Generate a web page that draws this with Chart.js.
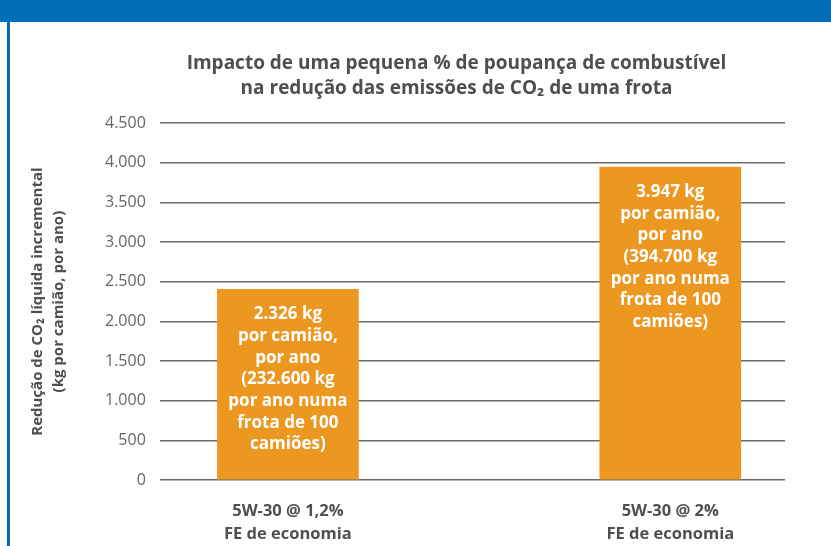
<!DOCTYPE html>
<html>
<head>
<meta charset="utf-8">
<script src="https://cdn.jsdelivr.net/npm/chart.js@4.4.1/dist/chart.umd.min.js"></script>
<style>
  html, body { margin: 0; padding: 0; background: #fff; overflow: hidden; }
  body { width: 831px; height: 546px; position: relative; }
  #topbar { position: absolute; left: 0; top: 0; width: 831px; height: 22px; background: #006eb7; }
  #sidebar { position: absolute; left: 7px; top: 22px; width: 3px; height: 524px; background: #006eb7; }
  #wrap { position: absolute; left: 10px; top: 22px; width: 876px; height: 524px; }
</style>
</head>
<body>
<div id="topbar"></div>
<div id="sidebar"></div>
<div id="wrap"><canvas id="chart"></canvas></div>
<script>
// Dados do gráfico
const categories = [['5W-30 @ 1,2%', 'FE de economia'], ['5W-30 @ 2%', 'FE de economia']];
const reduction = [2405, 3947];
const barLabels = [
  ['2.326 kg', 'por camião,', 'por ano', '(232.600 kg', 'por ano numa', 'frota de 100', 'camiões)'],
  ['3.947 kg', 'por camião,', 'por ano', '(394.700 kg', 'por ano numa', 'frota de 100', 'camiões)']
];
const yTickLabels = ['0', '500', '1.000', '1.500', '2.000', '2.500', '3.000', '3.500', '4.000', '4.500'];

const gray = '#4f4f4f';

// Texto branco dentro das barras
const barText = {
  id: 'barText',
  afterDatasetsDraw(chart) {
    const ctx = chart.ctx;
    const meta = chart.getDatasetMeta(0);
    ctx.save();
    ctx.fillStyle = '#fff';
    ctx.font = 'bold 17px "Open Sans"';
    ctx.textAlign = 'center';
    ctx.textBaseline = 'middle';
    meta.data.forEach((bar, i) => {
      barLabels[i].forEach((line, j) => {
        ctx.fillText(line, bar.x, bar.y + 25 + j * 21.7);
      });
    });
    ctx.restore();
  }
};

new Chart(document.getElementById('chart'), {
  type: 'bar',
  data: {
    datasets: [{
      data: reduction.map((v, i) => ({ x: i, y: v })),
      backgroundColor: '#ec971f',
      barThickness: 141
    }]
  },
  options: {
    responsive: true,
    maintainAspectRatio: false,
    animation: false,
    layout: { padding: { left: 17, right: 0, top: 0, bottom: 0 } },
    plugins: {
      legend: { display: false },
      tooltip: { enabled: false },
      title: {
        display: true,
        text: ['Impacto de uma pequena % de poupança de combustível', 'na redução das emissões de CO₂ de uma frota'],
        color: gray,
        font: { family: '"Open Sans"', size: 19, weight: 'bold', lineHeight: 1.32 },
        padding: { top: 29, bottom: 22 }
      }
    },
    scales: {
      x: {
        type: 'linear',
        offset: false,
        min: -0.335,
        max: 1.3,
        grid: { display: false, drawTicks: false },
        border: { display: false },
        ticks: {
          stepSize: 1,
          includeBounds: false,
          autoSkip: false,
          maxRotation: 0,
          padding: 19,
          color: gray,
          font: { family: '"Open Sans"', size: 16.5, weight: 'bold', lineHeight: 1.43 },
          callback: v => Number.isInteger(v) ? categories[v] : ''
        },
        afterFit: s => { s.height = 66; }
      },
      y: {
        min: 0,
        max: 4500,
        grid: { color: '#6b6b6b', lineWidth: 1.5, drawTicks: false },
        border: { display: false },
        ticks: {
          stepSize: 500,
          padding: 14,
          color: '#666',
          font: { family: '"Open Sans"', size: 16 },
          callback: (v, i) => yTickLabels[i]
        },
        title: {
          display: true,
          text: ['Redução de CO₂ líquida incremental', '(kg por camião, por ano)'],
          color: gray,
          font: { family: '"Open Sans"', size: 15, weight: 'bold', lineHeight: 1.4 },
          padding: { top: 0, bottom: 22 }
        }
      },
      // eixo vazio à direita, só para centrar o título
      y2: {
        position: 'right',
        grid: { display: false },
        border: { display: false },
        ticks: { display: false },
        afterFit: s => { s.width = 101; }
      }
    }
  },
  plugins: [barText]
});
</script>
</body>
</html>
